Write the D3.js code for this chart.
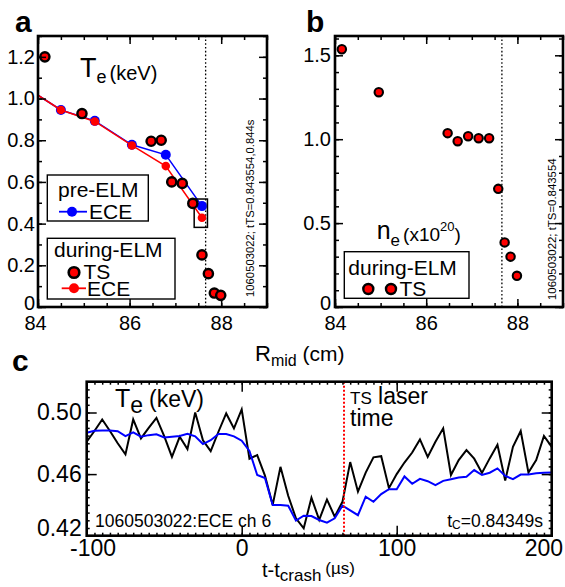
<!DOCTYPE html>
<html><head><meta charset="utf-8">
<script src="https://cdn.jsdelivr.net/npm/d3@7"></script>
<style>
body{margin:0;background:#fff;}
svg{display:block;font-family:"Liberation Sans",Arial,Helvetica,sans-serif;}
</style></head><body>
<svg id="chart" width="565" height="587"></svg>
<script>
// ---------------- data ----------------
const tsR  = [84.15, 84.96, 86.47, 86.69, 86.92, 87.15, 87.38, 87.58, 87.72, 87.85, 87.99];
const tsTe = [1.200, 0.928, 0.795, 0.800, 0.600, 0.593, 0.497, 0.250, 0.160, 0.067, 0.056];
const tsNe = [1.536, 1.280, 1.036, 0.988, 1.018, 1.006, 1.006, 0.704, 0.385, 0.300, 0.186];
const eceR      = [83.9, 84.50, 85.24, 86.05, 86.79, 87.58];
const ecePre    = [1.03, 0.945, 0.893, 0.778, 0.730, 0.484];
const eceDuring = [1.03, 0.945, 0.890, 0.775, 0.676, 0.428];
const rSep = 87.66;
const boxR = [87.41, 87.70];
const boxTe = [0.382, 0.518];

const cTime = [-100,-95,-90,-85,-80,-75,-70,-65,-60,-55,
               -50,-45,-40,-35,-30,-25,-20,-15,-10,-5,
               0,5,10,15,20,25,30,35,40,45,
               50,55,60,65,70,75,80,85,90,95,
               100,105,110,115,120,125,130,135,140,145,
               150,155,160,165,170,175,180,185,190,195,
               200];
const cBlack = [0.481,0.488,0.4955,0.488,0.480,0.4728,0.4955,0.4832,0.490,0.4965,
                0.4846,0.4712,0.4842,0.4762,0.500,0.482,0.4749,0.4875,0.4994,0.4897,
                0.502,0.470,0.4723,0.459,0.440,0.4647,0.4459,0.4313,0.4248,0.4446,
                0.4303,0.4435,0.4324,0.442,0.4678,0.4486,0.461,0.4709,0.4716,0.4509,
                0.460,0.4675,0.474,0.4825,0.4712,0.481,0.4897,0.4594,0.4691,0.4756,
                0.470,0.4608,0.4702,0.479,0.4558,0.4777,0.488,0.461,0.4691,0.4848,
                0.4777];
const cBlue  = [0.4868,0.4881,0.4883,0.4883,0.4879,0.4847,0.4871,0.4843,0.4853,0.4858,
                0.4838,0.4843,0.4848,0.4862,0.4845,0.4795,0.4820,0.4860,0.4860,0.4845,
                0.4817,0.4750,0.4594,0.4575,0.4399,0.4399,0.4395,0.4298,0.4330,0.4328,
                0.4302,0.4285,0.4313,0.4395,0.4365,0.4333,0.4453,0.4420,0.4470,0.4502,
                0.4502,0.4585,0.4537,0.4569,0.4554,0.4529,0.4556,0.4567,0.4578,0.4583,
                0.4626,0.4594,0.4609,0.4637,0.4588,0.4567,0.4597,0.4597,0.4605,0.4609,
                0.4611];
const tLaser = 66;

const rTicks = [84, 86, 88];
const rLabels = ["84", "86", "88"];
const aYTicks = [0, 0.2, 0.4, 0.6, 0.8, 1.0, 1.2];
const aYLabels = ["0", "0.2", "0.4", "0.6", "0.8", "1.0", "1.2"];
const bYTicks = [0, 0.5, 1.0, 1.5];
const bYLabels = ["0", "0.5", "1.0", "1.5"];
const cXTicks = [-100, 0, 100, 200];
const cXLabels = ["-100", "0", "100", "200"];
const cYTicks = [0.42, 0.46, 0.50];
const cYLabels = ["0.42", "0.46", "0.50"];

// ---------------- setup ----------------
const svg = d3.select("#chart");
const FONT = '"Liberation Sans",Arial,Helvetica,sans-serif';

const xa = d3.scaleLinear().domain([84, 89]).range([38, 267]);
const ya = d3.scaleLinear().domain([0, 1.3]).range([307, 36]);
const xb = d3.scaleLinear().domain([84, 89]).range([335, 563]);
const yb = d3.scaleLinear().domain([0, 1.615]).range([307, 36]);
const xc = d3.scaleLinear().domain([-100, 200]).range([86.7, 551.7]);
const yc = d3.scaleLinear().domain([0.42, 0.52]).range([535.7, 381.7]);

function styleAxis(g, fs) {
  g.attr("font-family", FONT).attr("font-size", fs);
  g.select(".domain").remove();
  g.selectAll(".tick line").attr("stroke", "#000").attr("stroke-width", 1.5);
  g.selectAll(".tick text").attr("fill", "#000");
}

function frame(x, y, o) {
  const g = svg.append("g");
  const [l, r] = x.range(), [b, t] = y.range();
  const lab = (labels) => (d, i) => labels[i];
  const none = () => "";
  [[d3.axisBottom, x, b, o.xMinor], [d3.axisTop, x, t, o.xMinor]].forEach(([f, s, pos, vals]) => {
    const a = g.append("g").attr("transform", `translate(0,${pos})`)
      .call(f(s).tickValues(vals).tickSize(-o.minorLen).tickFormat(none));
    styleAxis(a, o.fs);
  });
  [[d3.axisLeft, y, l, o.yMinor], [d3.axisRight, y, r, o.yMinor]].forEach(([f, s, pos, vals]) => {
    const a = g.append("g").attr("transform", `translate(${pos},0)`)
      .call(f(s).tickValues(vals).tickSize(-o.minorLen).tickFormat(none));
    styleAxis(a, o.fs);
  });
  const xb_ = g.append("g").attr("transform", `translate(0,${b})`)
    .call(d3.axisBottom(x).tickValues(o.xTicks).tickSize(-o.majorLen).tickPadding(o.xPad).tickFormat(lab(o.xLabels)));
  styleAxis(xb_, o.fs);
  const xt_ = g.append("g").attr("transform", `translate(0,${t})`)
    .call(d3.axisTop(x).tickValues(o.xTicks).tickSize(-o.majorLen).tickFormat(none));
  styleAxis(xt_, o.fs);
  const yl_ = g.append("g").attr("transform", `translate(${l},0)`)
    .call(d3.axisLeft(y).tickValues(o.yTicks).tickSize(-o.majorLen).tickPadding(o.yPad).tickFormat(lab(o.yLabels)));
  styleAxis(yl_, o.fs);
  const yr_ = g.append("g").attr("transform", `translate(${r},0)`)
    .call(d3.axisRight(y).tickValues(o.yTicks).tickSize(-o.majorLen).tickFormat(none));
  styleAxis(yr_, o.fs);
  g.append("rect").attr("x", l).attr("y", t).attr("width", r - l).attr("height", b - t)
    .attr("fill", "none").attr("stroke", "#000").attr("stroke-width", 2.6);
  return {g, xAxis: xb_, yAxis: yl_};
}

function clip(id, x, y) {
  svg.append("clipPath").attr("id", id).append("rect")
    .attr("x", x.range()[0]).attr("y", y.range()[1])
    .attr("width", x.range()[1] - x.range()[0]).attr("height", y.range()[0] - y.range()[1]);
}

// ---------------- panel a ----------------
clip("clipA", xa, ya);
const pa = svg.append("g").attr("clip-path", "url(#clipA)");
pa.append("line").attr("x1", xa(rSep)).attr("x2", xa(rSep)).attr("y1", ya(0)).attr("y2", ya(1.3))
  .attr("stroke", "#000").attr("stroke-width", 1.3).attr("stroke-dasharray", "1.6,2.2");

const lineA = (vals) => d3.line().x((d, i) => xa(eceR[i])).y(d => ya(d))(vals);
pa.append("path").attr("d", lineA(ecePre)).attr("fill", "none").attr("stroke", "#0000ff").attr("stroke-width", 1.5);
pa.selectAll("circle.pre").data(ecePre).enter().append("circle")
  .attr("cx", (d, i) => xa(eceR[i])).attr("cy", d => ya(d)).attr("r", 5).attr("fill", "#0000ff");
pa.append("path").attr("d", lineA(eceDuring)).attr("fill", "none").attr("stroke", "#ff0000").attr("stroke-width", 1.5);
pa.selectAll("circle.dur").data(eceDuring).enter().append("circle")
  .attr("cx", (d, i) => xa(eceR[i])).attr("cy", d => ya(d)).attr("r", 4.3).attr("fill", "#ff0000");
pa.append("rect").attr("x", xa(boxR[0])).attr("y", ya(boxTe[1]))
  .attr("width", xa(boxR[1]) - xa(boxR[0])).attr("height", ya(boxTe[0]) - ya(boxTe[1]))
  .attr("fill", "none").attr("stroke", "#000").attr("stroke-width", 1.5);
pa.selectAll("circle.ts").data(tsTe).enter().append("circle")
  .attr("cx", (d, i) => xa(tsR[i])).attr("cy", d => ya(d)).attr("r", 4.6)
  .attr("fill", "#ff0000").attr("stroke", "#000").attr("stroke-width", 2.4);

const fa = frame(xa, ya, {
  xTicks: rTicks, xLabels: rLabels, yTicks: aYTicks, yLabels: aYLabels,
  xMinor: d3.range(84, 89.01, 0.5), yMinor: d3.range(0, 1.31, 0.1),
  majorLen: 8, minorLen: 4, xPad: 9, yPad: 3, fs: 20
});
fa.yAxis.selectAll(".tick text").filter(d => d === 0).attr("y", -4);
fa.xAxis.selectAll(".tick text").filter(d => d === 84).attr("x", -3);

svg.append("text").attr("x", 80).attr("y", 77).attr("font-size", 27).attr("fill", "#000")
  .call(t => {
    t.append("tspan").text("T");
    t.append("tspan").attr("font-size", 18).attr("dy", 6).text("e");
    t.append("tspan").attr("font-size", 20).attr("dx", 3).attr("dy", -3).text("(keV)");
  });

svg.append("text").attr("transform", `translate(254,297) rotate(-90)`)
  .attr("font-size", 11.3).attr("fill", "#000").text("1060503022; tTS=0.843554,0.844s");

const la = svg.append("g").attr("font-size", 21).attr("fill", "#000");
la.append("rect").attr("x", 47.3).attr("y", 175).attr("width", 101).attr("height", 46)
  .attr("fill", "#fff").attr("stroke", "#000").attr("stroke-width", 1.4);
la.append("text").attr("x", 58).attr("y", 197).text("pre-ELM");
la.append("line").attr("x1", 59).attr("x2", 87).attr("y1", 211.7).attr("y2", 211.7).attr("stroke", "#0000ff").attr("stroke-width", 1.8);
la.append("circle").attr("cx", 72).attr("cy", 211.7).attr("r", 5).attr("fill", "#0000ff");
la.append("text").attr("x", 89).attr("y", 219).text("ECE");

la.append("rect").attr("x", 47.3).attr("y", 238.3).attr("width", 127.7).attr("height", 60.7)
  .attr("fill", "#fff").attr("stroke", "#000").attr("stroke-width", 1.4);
la.append("text").attr("x", 54).attr("y", 257).text("during-ELM");
la.append("circle").attr("cx", 74).attr("cy", 272.5).attr("r", 5.3).attr("fill", "#ff0000").attr("stroke", "#000").attr("stroke-width", 2.6);
la.append("text").attr("x", 83.5).attr("y", 279).text("TS");
la.append("line").attr("x1", 61.7).attr("x2", 86).attr("y1", 288.3).attr("y2", 288.3).attr("stroke", "#ff0000").attr("stroke-width", 1.8);
la.append("circle").attr("cx", 74).attr("cy", 288.3).attr("r", 5).attr("fill", "#ff0000");
la.append("text").attr("x", 87).attr("y", 296).text("ECE");

// ---------------- panel b ----------------
clip("clipB", xb, yb);
const pb = svg.append("g").attr("clip-path", "url(#clipB)");
pb.append("line").attr("x1", xb(rSep)).attr("x2", xb(rSep)).attr("y1", yb(0)).attr("y2", yb(1.615))
  .attr("stroke", "#000").attr("stroke-width", 1.3).attr("stroke-dasharray", "1.6,2.2");
pb.selectAll("circle.ts").data(tsNe).enter().append("circle")
  .attr("cx", (d, i) => xb(tsR[i])).attr("cy", d => yb(d)).attr("r", 4.2)
  .attr("fill", "#ff0000").attr("stroke", "#000").attr("stroke-width", 2.1);

const fb = frame(xb, yb, {
  xTicks: rTicks, xLabels: rLabels, yTicks: bYTicks, yLabels: bYLabels,
  xMinor: d3.range(84, 89.01, 0.5), yMinor: d3.range(0, 1.61, 0.1),
  majorLen: 8, minorLen: 4, xPad: 9, yPad: 4, fs: 20
});
fb.yAxis.selectAll(".tick text").filter(d => d === 0).attr("y", -4);

svg.append("text").attr("x", 376.7).attr("y", 238.5).attr("font-size", 25).attr("fill", "#000")
  .call(t => {
    t.append("tspan").text("n");
    t.append("tspan").attr("font-size", 17).attr("dy", 7).text("e");
    t.append("tspan").attr("font-size", 19).attr("dx", 3).attr("dy", -5).text("(x10");
    t.append("tspan").attr("font-size", 13).attr("dy", -10).text("20");
    t.append("tspan").attr("font-size", 19).attr("dy", 10).text(")");
  });
svg.append("text").attr("transform", `translate(556,300) rotate(-90)`)
  .attr("font-size", 11.4).attr("fill", "#000").text("1060503022; tTS=0.843554");

const lb = svg.append("g").attr("font-size", 21).attr("fill", "#000");
lb.append("rect").attr("x", 344.3).attr("y", 251.7).attr("width", 124.7).attr("height", 46.6)
  .attr("fill", "#fff").attr("stroke", "#000").attr("stroke-width", 1.4);
lb.append("text").attr("x", 348.3).attr("y", 275).text("during-ELM");
[368.3, 391].forEach(cx => lb.append("circle").attr("cx", cx).attr("cy", 289).attr("r", 5)
  .attr("fill", "#ff0000").attr("stroke", "#000").attr("stroke-width", 2.4));
lb.append("text").attr("x", 399.5).attr("y", 296).text("TS");

svg.append("text").attr("x", 255).attr("y", 361).attr("font-size", 22).attr("fill", "#000")
  .call(t => {
    t.append("tspan").text("R");
    t.append("tspan").attr("font-size", 16).attr("dy", 5).text("mid");
    t.append("tspan").attr("font-size", 21).attr("dy", -5).text(" (cm)");
  });

// ---------------- panel c ----------------
clip("clipC", xc, yc);
const pc = svg.append("g").attr("clip-path", "url(#clipC)");
const lineC = (vals) => d3.line().x((d, i) => xc(cTime[i])).y(d => yc(d))(vals);
pc.append("path").attr("d", lineC(cBlack)).attr("fill", "none").attr("stroke", "#000").attr("stroke-width", 2);
pc.append("path").attr("d", lineC(cBlue)).attr("fill", "none").attr("stroke", "#0000ff").attr("stroke-width", 2);
pc.append("line").attr("x1", xc(tLaser)).attr("x2", xc(tLaser)).attr("y1", yc(0.42)).attr("y2", yc(0.52))
  .attr("stroke", "#ff0000").attr("stroke-width", 2).attr("stroke-dasharray", "2,2");

const fc = frame(xc, yc, {
  xTicks: cXTicks, xLabels: cXLabels, yTicks: cYTicks, yLabels: cYLabels,
  xMinor: d3.range(-100, 200.1, 5), yMinor: d3.range(0.42, 0.5201, 0.005),
  majorLen: 10, minorLen: 3, xPad: 4, yPad: 5, fs: 23
});
fc.xAxis.selectAll(".tick text").each(function () {
  const bb = this.getBBox();
  const tr = this.parentNode.transform.baseVal.consolidate().matrix.e;
  const left = tr + bb.x, right = tr + bb.x + bb.width;
  if (left < 70) d3.select(this).attr("x", 70 - left);
  if (right > 563) d3.select(this).attr("x", 563 - right);
});
fc.yAxis.selectAll(".tick text").filter((d) => d === 0.42).attr("y", -8);

svg.append("text").attr("x", 115).attr("y", 406.7).attr("font-size", 25).attr("fill", "#000")
  .call(t => {
    t.append("tspan").text("T");
    t.append("tspan").attr("font-size", 23).attr("dy", 6).text("e");
    t.append("tspan").attr("font-size", 23).attr("dx", 6).attr("dy", -6).text("(keV)");
  });
svg.append("text").attr("x", 350).attr("y", 404).attr("font-size", 23).attr("fill", "#000")
  .call(t => {
    t.append("tspan").attr("font-size", 17).text("TS");
    t.append("tspan").text(" laser");
  });
svg.append("text").attr("x", 350).attr("y", 426).attr("font-size", 23).attr("fill", "#000").text("time");
svg.append("text").attr("x", 95).attr("y", 526.7).attr("font-size", 17.5).attr("fill", "#000").text("1060503022:ECE ch 6");
svg.append("text").attr("x", 543).attr("y", 526.7).attr("text-anchor", "end").attr("font-size", 17.5).attr("fill", "#000")
  .call(t => {
    t.append("tspan").text("t");
    t.append("tspan").attr("font-size", 12).attr("dy", 2).text("C");
    t.append("tspan").attr("dy", -2).text("=0.84349s");
  });
svg.append("text").attr("x", 262).attr("y", 577).attr("font-size", 20).attr("fill", "#000")
  .call(t => {
    t.append("tspan").text("t-t");
    t.append("tspan").attr("font-size", 17).attr("dy", 4).text("crash");
    t.append("tspan").attr("font-size", 17).attr("dx", 4).attr("dy", -7).text("(µs)");
  });

[["a", 15, 32], ["b", 306, 32], ["c", 12, 371]].forEach(([s, x, y]) =>
  svg.append("text").attr("x", x).attr("y", y).attr("font-size", 30).attr("font-weight", "bold").attr("fill", "#000").text(s));
</script>
</body></html>
